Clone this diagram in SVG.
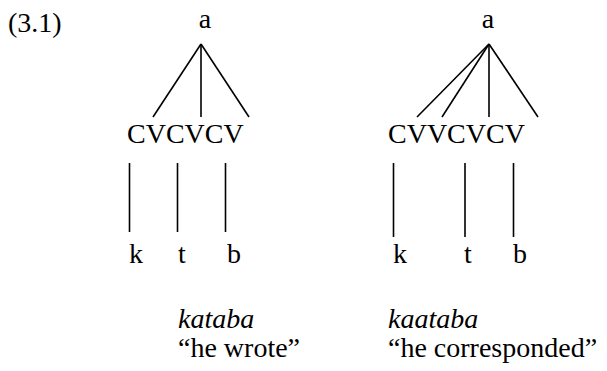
<svg xmlns="http://www.w3.org/2000/svg" width="607" height="371" viewBox="0 0 607 371">
<style>
text{font-family:"Liberation Serif","Times New Roman",serif;font-size:28px;fill:#000}
.it{font-style:italic}
.mid{text-anchor:middle}
line{stroke:#000;stroke-width:1.6}
</style>
<rect width="607" height="371" fill="#fff"/>
<text id="label" x="8" y="32">(3.1)</text>
<g id="tree1">
<text class="mid" x="205" y="28">a</text>
<text x="127" y="143">CVCVCV</text>
<text x="129" y="263">k</text>
<text x="178" y="263">t</text>
<text x="227" y="263">b</text>
<text class="it" x="178" y="328">kataba</text>
<text x="178" y="357">“he wrote”</text>
</g>
<g id="tree2">
<text class="mid" x="488" y="28">a</text>
<text x="388" y="143">CVVCVCV</text>
<text x="393" y="263">k</text>
<text x="464" y="263">t</text>
<text x="513" y="263">b</text>
<text class="it" x="388" y="328">kaataba</text>
<text x="388" y="357">“he corresponded”</text>
</g>
<g id="connectors">
<line x1="201" y1="44" x2="153" y2="117"/>
<line x1="201" y1="44" x2="201" y2="117"/>
<line x1="201" y1="44" x2="249" y2="117"/>
<line x1="129.5" y1="163" x2="129.5" y2="232"/>
<line x1="177.5" y1="163" x2="177.5" y2="232"/>
<line x1="225.5" y1="163" x2="225.5" y2="232"/>
<line x1="489" y1="44" x2="417" y2="117"/>
<line x1="489" y1="44" x2="442" y2="117"/>
<line x1="489" y1="44" x2="489" y2="117"/>
<line x1="489" y1="44" x2="538" y2="117"/>
<line x1="393.5" y1="163" x2="393.5" y2="237"/>
<line x1="465" y1="163" x2="465" y2="237"/>
<line x1="513.5" y1="163" x2="513.5" y2="237"/>
</g>
</svg>
